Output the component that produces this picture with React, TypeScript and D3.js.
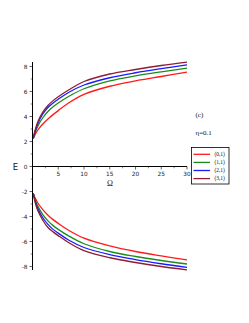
import React from "react";
import * as d3 from "d3";

const omega = [0.15, 0.5, 1, 2, 3, 4, 5, 7, 10, 15, 20, 25, 30];
const upperRed = [2.25, 2.55, 2.9, 3.4, 3.8, 4.15, 4.47, 5.08, 5.77, 6.42, 6.85, 7.2, 7.55];
const upperGreen = [2.25, 2.7, 3.2, 3.9, 4.4, 4.78, 5.08, 5.6, 6.22, 6.85, 7.25, 7.57, 7.87];
const upperBlue = [2.25, 2.8, 3.4, 4.2, 4.72, 5.08, 5.38, 5.92, 6.52, 7.1, 7.5, 7.83, 8.13];
const upperMaroon = [2.25, 2.9, 3.55, 4.35, 4.88, 5.27, 5.58, 6.12, 6.8, 7.4, 7.76, 8.08, 8.35];
const lowerRed = [-2.15, -2.5, -2.9, -3.45, -3.9, -4.25, -4.55, -5.1, -5.73, -6.35, -6.8, -7.15, -7.47];
const lowerGreen = [-2.15, -2.65, -3.15, -3.85, -4.35, -4.73, -5.03, -5.55, -6.18, -6.8, -7.2, -7.52, -7.8];
const lowerBlue = [-2.15, -2.75, -3.35, -4.1, -4.63, -5.03, -5.33, -5.88, -6.48, -7.05, -7.45, -7.78, -8.07];
const lowerMaroon = [-2.15, -2.85, -3.5, -4.3, -4.88, -5.23, -5.53, -6.08, -6.73, -7.3, -7.68, -8.0, -8.27];

const legendLabels = ["(0,1)", "(1,1)", "(2,1)", "(3,1)"];
const colors = ["#ff1a1a", "#1a8c1a", "#1a1aff", "#8a1f35"];
const xTicks = [5, 10, 15, 20, 25, 30];
const yTicks = [-8, -6, -4, -2, 0, 2, 4, 6, 8];

export default function App() {
  const x = d3.scaleLinear().domain([0, 30]).range([32.5, 187]);
  const y = d3.scaleLinear().domain([-8, 8]).range([266.5, 66.5]);
  const line = d3
    .line<[number, number]>()
    .x((d) => x(d[0]))
    .y((d) => y(d[1]))
    .curve(d3.curveCatmullRom.alpha(0.5));
  const series = [
    [upperRed, lowerRed],
    [upperGreen, lowerGreen],
    [upperBlue, lowerBlue],
    [upperMaroon, lowerMaroon],
  ];
  const minorY = d3.range(-8, 9, 1).filter((v) => v % 2 !== 0);
  const minorX = d3.range(2.5, 30, 5);
  const legX = 191.5;
  const legY = 147.5;
  return (
    <svg
      width={249}
      height={323}
      style={{ position: "absolute", left: 0, top: 0, background: "#fff" }}
    >
      {series.map((pair, i) =>
        pair.map((vals, j) => (
          <path
            key={`${i}-${j}`}
            d={line(omega.map((o, k) => [o, vals[k]]) as [number, number][]) || ""}
            fill="none"
            stroke={colors[i]}
            strokeWidth={1.3}
          />
        ))
      )}
      <line x1={x(0)} x2={x(0)} y1={62} y2={270} stroke="#000" strokeWidth={1} />
      <line x1={x(0)} x2={x(30)} y1={y(0)} y2={y(0)} stroke="#000" strokeWidth={1} />
      {yTicks.map((t) => (
        <g key={`yt${t}`}>
          <line x1={x(0) - 3} x2={x(0)} y1={y(t)} y2={y(t)} stroke="#000" strokeWidth={0.6} />
          <text
            x={x(0) - 5}
            y={y(t)}
            dy="0.35em"
            textAnchor="end"
            fontSize={5.8}
            fontFamily="DejaVu Sans, sans-serif"
            fill="#222"
          >
            {t < 0 ? `-${-t}` : t}
          </text>
        </g>
      ))}
      {minorY.map((t) => (
        <line key={`my${t}`} x1={x(0) - 1.8} x2={x(0)} y1={y(t)} y2={y(t)} stroke="#000" strokeWidth={0.5} />
      ))}
      {xTicks.map((t) => (
        <g key={`xt${t}`}>
          <line x1={x(t)} x2={x(t)} y1={y(0)} y2={y(0) + 3} stroke="#000" strokeWidth={0.6} />
          <text
            x={x(t)}
            y={y(0) + 7}
            dy="0.35em"
            textAnchor="middle"
            fontSize={5.8}
            fontFamily="DejaVu Sans, sans-serif"
            fill="#222"
          >
            {t}
          </text>
        </g>
      ))}
      {minorX.map((t) => (
        <line key={`mx${t}`} x1={x(t)} x2={x(t)} y1={y(0)} y2={y(0) + 1.8} stroke="#000" strokeWidth={0.5} />
      ))}
      <text x={15.5} y={167} dy="0.35em" textAnchor="middle" fontSize={8.5} fontFamily="DejaVu Sans, sans-serif" fill="#111">
        E
      </text>
      <text x={110} y={183} dy="0.35em" textAnchor="middle" fontSize={8} fontFamily="Liberation Serif, serif" fill="#111">
        Ω
      </text>
      <text x={195.5} y={114.5} dy="0.35em" fontSize={7} fontFamily="Liberation Serif, serif" fill="#111">
        (c)
      </text>
      <text x={195.5} y={133} dy="0.35em" fontSize={7} fontFamily="Liberation Serif, serif" fill="#111">
        η=0.1
      </text>
      <rect x={legX} y={legY} width={37.5} height={36.5} fill="#fff" stroke="#000" strokeWidth={0.8} />
      {legendLabels.map((lab, i) => (
        <g key={lab}>
          <line
            x1={legX + 2}
            x2={legX + 18.5}
            y1={legY + 6.8 + i * 8.1}
            y2={legY + 6.8 + i * 8.1}
            stroke={colors[i]}
            strokeWidth={1.3}
          />
          <text
            x={legX + 23}
            y={legY + 6.8 + i * 8.1}
            dy="0.35em"
            fontSize={5.4}
            fontFamily="Liberation Serif, serif"
            fill="#111"
          >
            {lab}
          </text>
        </g>
      ))}
    </svg>
  );
}
